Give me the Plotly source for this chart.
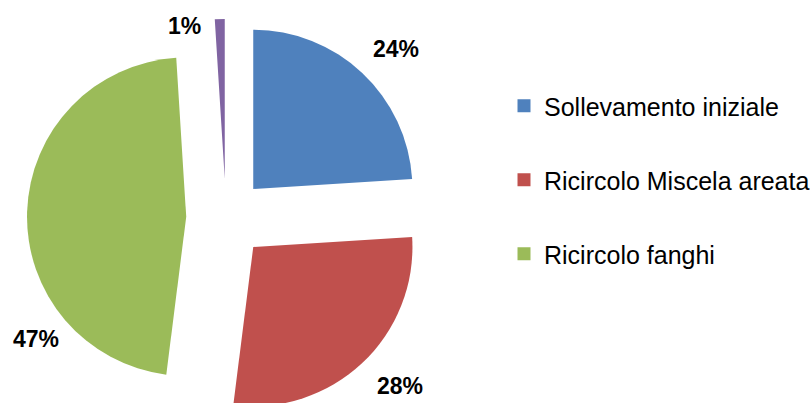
import plotly.graph_objects as go

# Energy share per pumping stage (percent)
categories = ["Sollevamento iniziale", "Ricircolo Miscela areata", "Ricircolo fanghi", "Altro"]
values = [24, 28, 47, 1]
colors = ["#4F81BD", "#C0504D", "#9BBB59", "#8064A2"]
legend_categories = categories[:3]

# Figure geometry (pixels)
W, H = 810, 417
M_TOP = 19
PLOT_H = H - M_TOP

# Percentage label anchor points in pixels (x, y from top)
LABEL_PX = [(396, 49), (400, 386), (36, 339), (184, 26)]


def to_paper(px, py):
    return px / W, 1 - (py - M_TOP) / PLOT_H


fig = go.Figure()

fig.add_trace(go.Pie(
    labels=categories,
    values=values,
    sort=False,
    direction="clockwise",
    rotation=0,
    pull=[0.25] * len(values),
    marker=dict(colors=colors, line=dict(width=0)),
    textinfo="none",
    hoverinfo="label+percent",
    showlegend=False,
    domain=dict(x=[27 / W, 425 / W], y=[0, 1]),
))

# Legend entries as square swatches
for name, col in zip(legend_categories, colors):
    fig.add_trace(go.Scatter(
        x=[None], y=[None], mode="markers", name=name,
        marker=dict(symbol="square", size=13, color=col),
        legendgroup=name, showlegend=True,
    ))

total = sum(values)
annotations = []
for v, (px, py) in zip(values, LABEL_PX):
    ax, ay = to_paper(px, py)
    annotations.append(dict(
        x=ax, y=ay, xref="paper", yref="paper",
        text=f"{round(100 * v / total)}%", showarrow=False,
        xanchor="center", yanchor="middle",
        font=dict(family="Liberation Sans", size=23, color="#000000", weight="bold"),
    ))

fig.update_layout(
    width=W, height=H,
    margin=dict(l=0, r=0, t=M_TOP, b=0, autoexpand=False),
    paper_bgcolor="white", plot_bgcolor="white",
    xaxis=dict(visible=False), yaxis=dict(visible=False),
    annotations=annotations,
    legend=dict(
        x=(544 - 40) / W, xanchor="left",
        y=to_paper(0, 83)[1], yanchor="top",
        font=dict(family="Liberation Sans", size=25, color="#000000"),
        tracegroupgap=38.5, bgcolor="rgba(0,0,0,0)",
    ),
)

fig.write_html(
    "out.html",
    post_script="document.documentElement.style.overflow='hidden';document.body.style.overflow='hidden';",
)
